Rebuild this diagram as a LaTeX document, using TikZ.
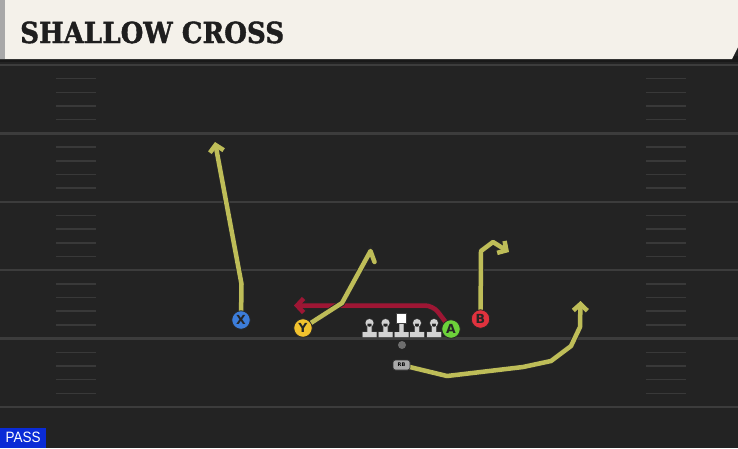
\documentclass[tikz,border=0pt]{standalone}
\usepackage{fontspec}
\setmainfont{DejaVu Serif}
\setsansfont{DejaVu Sans}
\newfontfamily\passfont{Liberation Sans}
\newfontfamily\titlefont[FakeBold=1.5]{DejaVu Serif Bold}
\usepackage{graphicx}
\usetikzlibrary{arrows.meta}
\definecolor{fieldgray}{HTML}{232323}
\definecolor{yardgray}{HTML}{3C3C3C}
\definecolor{hashgray}{HTML}{393939}
\definecolor{cream}{HTML}{F4F1EA}
\definecolor{stripegray}{HTML}{A8A8A8}
\definecolor{titleink}{HTML}{1E1E1E}
\definecolor{routeyellow}{RGB}{190,189,88}
\definecolor{routered}{RGB}{158,22,52}
\definecolor{xblue}{HTML}{3C7DDA}
\definecolor{yyellow}{HTML}{F2C22E}
\definecolor{agreen}{HTML}{6DD23A}
\definecolor{bred}{HTML}{E0323E}
\definecolor{linegray}{HTML}{D2D2D2}
\definecolor{ballgray}{HTML}{6E6E6E}
\definecolor{rbgray}{HTML}{A9A9A9}
\definecolor{passblue}{HTML}{0A2BD6}
\pgfdeclarelayer{field}
\pgfdeclarelayer{routes}
\pgfsetlayers{field,routes,main}

\begin{document}
\begin{tikzpicture}[x=1pt,y=-1pt,
	player/.style={circle,draw=black!85,line width=0.8pt,minimum size=18.5pt,inner sep=0pt,
		font=\sffamily\bfseries\fontsize{12.5}{12.5}\selectfont,text=black!85},
	route/.style={draw=routeyellow,line width=4.5pt,line cap=round,line join=round,
		preaction={draw=black!85,line width=6.3pt}},
	redroute/.style={route,draw=routered},
	tip/.style={-{Straight Barb[length=6.5pt,width=14pt]}},
	rbtag/.style={rectangle,rounded corners=2.5pt,fill=rbgray,draw=black!80,line width=0.6pt,
		minimum width=17pt,minimum height=10pt,inner sep=0pt,font=\sffamily\bfseries\fontsize{5}{5}\selectfont},
	lineman/.pic={
		\draw[black!75,line width=1.2pt,fill=linegray] (-2.2,-13.5) rectangle (2.2,-4) (-7,-4.8) rectangle (7,0) (0,-14) circle (4);
		\fill[linegray] (-2.2,-13.5) rectangle (2.2,-4) (-7,-4.8) rectangle (7,0) (0,-14) circle (4);
	},
	snapper/.pic={
		\draw[black!75,line width=1.2pt,fill=linegray] (-2.2,-14) rectangle (2.2,-4) (-7,-4.8) rectangle (7,0);
		\fill[linegray] (-2.2,-14) rectangle (2.2,-4) (-7,-4.8) rectangle (7,0);
		\draw[black!75,line width=0.8pt,fill=white] (-4.8,-23.5) rectangle (4.8,-14);
	}]
	\useasboundingbox (0,0) rectangle (738,448);
	% field
	\begin{pgfonlayer}{field}
		\fill[fieldgray] (0,0) rectangle (738,448);
		\fill[black!90] (0,56) rectangle (738,62);
		\foreach \k in {0,...,5}
			\draw[yardgray,line width=2.5pt] (0,65+68.4*\k) -- (738,65+68.4*\k);
		\foreach \k in {0,...,4}
			\foreach \i in {1,...,4}{
				\draw[hashgray,line width=1.5pt] (56,65+68.4*\k+13.68*\i) -- (96,65+68.4*\k+13.68*\i);
				\draw[hashgray,line width=1.5pt] (646,65+68.4*\k+13.68*\i) -- (686,65+68.4*\k+13.68*\i);
			}
		% title bar
		\fill[cream] (0,0) -- (738,0) -- (738,47) -- (732,59) -- (0,59) -- cycle;
		\fill[stripegray] (0,0) rectangle (5,59);
	\end{pgfonlayer}
	\node[anchor=base west,inner sep=0pt,text=titleink] (title) at (20,43)
		{\scalebox{0.9}[1]{\titlefont\fontsize{29}{29}\selectfont SHALLOW CROSS}};
	% line
	\pic at (369.5,337) {lineman};
	\pic at (385.5,337) {lineman};
	\pic at (401.5,337) {snapper};
	\pic at (417,337) {lineman};
	\pic at (434,337) {lineman};
	\node[circle,fill=ballgray,minimum size=8pt,inner sep=0pt] (ball) at (402,345) {};
	% skill players
	\node[player,fill=xblue] (X) at (241,320) {X};
	\node[player,fill=yyellow] (Y) at (303,328) {Y};
	\node[player,fill=agreen] (A) at (451,329) {A};
	\node[player,fill=bred] (B) at (480.5,319) {B};
	\node[rbtag] (RB) at (401.5,365) {RB};
	% routes
	\begin{pgfonlayer}{routes}
		\draw[redroute,tip,rounded corners=8pt] (A.center) -- (433,305.5) -- (294,305.5);
		\draw[route,tip] (X.center) -- (241.5,284) -- (215,142);
		\draw[route] (Y.center) -- (342,303) -- (370.5,251) -- (374.5,262);
		\draw[route,tip] (B.center) -- (481,251) -- (493,242) -- (509,252);
		\draw[route,tip] (RB.center) -- (447,376) -- (523,367) -- (551,361) -- (571,346) -- (580,327) -- (580.5,301);
	\end{pgfonlayer}
	% play type
	\node[fill=passblue,text=white,anchor=south west,minimum width=46pt,minimum height=20pt,inner sep=0pt,
		font=\passfont\fontsize{15}{15}\selectfont] (pass) at (0,448) {\scalebox{0.9}[1]{PASS}};
\end{tikzpicture}
\end{document}
